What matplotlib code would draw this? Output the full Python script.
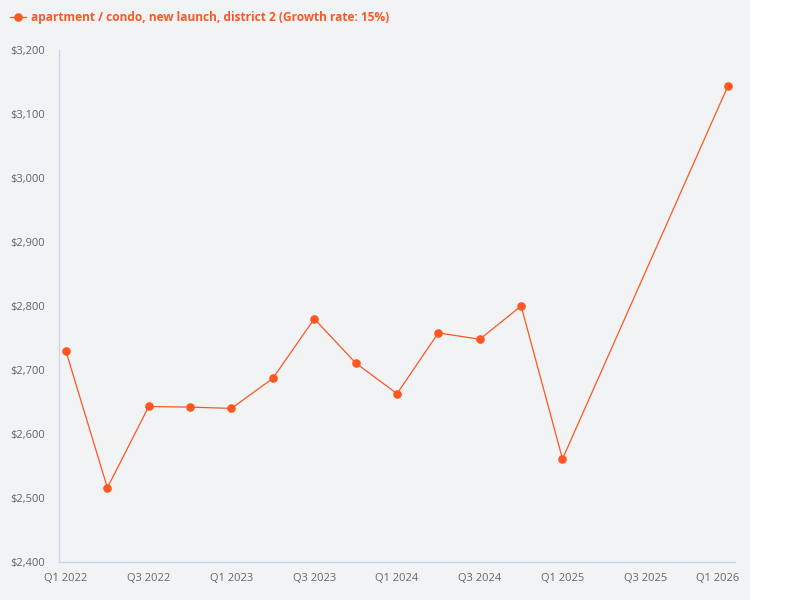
import matplotlib
matplotlib.use("Agg")
import matplotlib.pyplot as plt
from matplotlib.patches import Rectangle
from matplotlib.lines import Line2D
from matplotlib.transforms import ScaledTranslation

# ---- data ----
all_quarters = [f"Q{q} {y}" for y in range(2022, 2027) for q in range(1, 5)][:17]
point_quarters = ["Q1 2022", "Q2 2022", "Q3 2022", "Q4 2022", "Q1 2023", "Q2 2023",
                  "Q3 2023", "Q4 2023", "Q1 2024", "Q2 2024", "Q3 2024", "Q4 2024",
                  "Q1 2025", "Q1 2026"]
prices = [2729, 2516, 2643, 2642, 2640, 2687, 2780, 2711, 2663, 2758, 2748, 2800,
          2561, 3144]
tick_labels = ["Q1 2022", "Q3 2022", "Q1 2023", "Q3 2023", "Q1 2024", "Q3 2024",
               "Q1 2025", "Q3 2025", "Q1 2026"]
y_ticks = [2400, 2500, 2600, 2700, 2800, 2900, 3000, 3100, 3200]
series_name = "apartment / condo, new launch, district 2 (Growth rate: 15%)"

COLOR = "#fe5722"
BG = "#f2f3f5"
TEXT = "#666666"
AXIS = "#ccd6eb"

plt.rcParams["font.family"] = ["Open Sans", "DejaVu Sans"]

fig = plt.figure(figsize=(8, 6), dpi=100)
fig.patch.set_facecolor("white")
fig.patches.append(Rectangle((0, 0), 750 / 800, 1, transform=fig.transFigure,
                             facecolor=BG, edgecolor="none", zorder=-10))

ax = fig.add_axes([59 / 800, 1 - 562 / 600, (735 - 59) / 800, (562 - 50) / 600])
ax.set_facecolor("none")

xs = [all_quarters.index(q) for q in point_quarters]
ax.plot(xs, prices, color=COLOR, lw=0.9, marker="o", markersize=6.2,
        markeredgewidth=0, clip_on=False, zorder=3)

ax.set_xlim(-7 / 41.375, 16 + 7 / 41.375)
ax.set_ylim(2400, 3200)

ax.set_xticks([all_quarters.index(t) for t in tick_labels])
ax.set_xticklabels(tick_labels)
ax.set_yticks(y_ticks)
ax.set_yticklabels([f"${v:,.0f}" for v in y_ticks])

ax.tick_params(axis="both", length=0, labelsize=8, labelcolor=TEXT)
ax.tick_params(axis="x", pad=8)
ax.tick_params(axis="y", pad=10)

last = ax.get_xticklabels()[-1]
last.set_transform(last.get_transform() + ScaledTranslation(-10 / 100, 0, fig.dpi_scale_trans))

for s in ["top", "right"]:
    ax.spines[s].set_visible(False)
for s in ["left", "bottom"]:
    ax.spines[s].set_color(AXIS)
    ax.spines[s].set_linewidth(1)

# legend (top-left)
fig.lines.append(Line2D([10 / 800, 26 / 800], [1 - 17 / 600] * 2, transform=fig.transFigure,
                        color=COLOR, lw=0.9))
fig.lines.append(Line2D([18 / 800], [1 - 17 / 600], transform=fig.transFigure,
                        color=COLOR, marker="o", markersize=6.2, markeredgewidth=0))
fig.text(31 / 800, 1 - 17 / 600, series_name, color=COLOR, fontsize=8.6,
         fontweight="bold", va="center", ha="left")

fig.savefig("out.png", dpi=100, facecolor=fig.get_facecolor())
